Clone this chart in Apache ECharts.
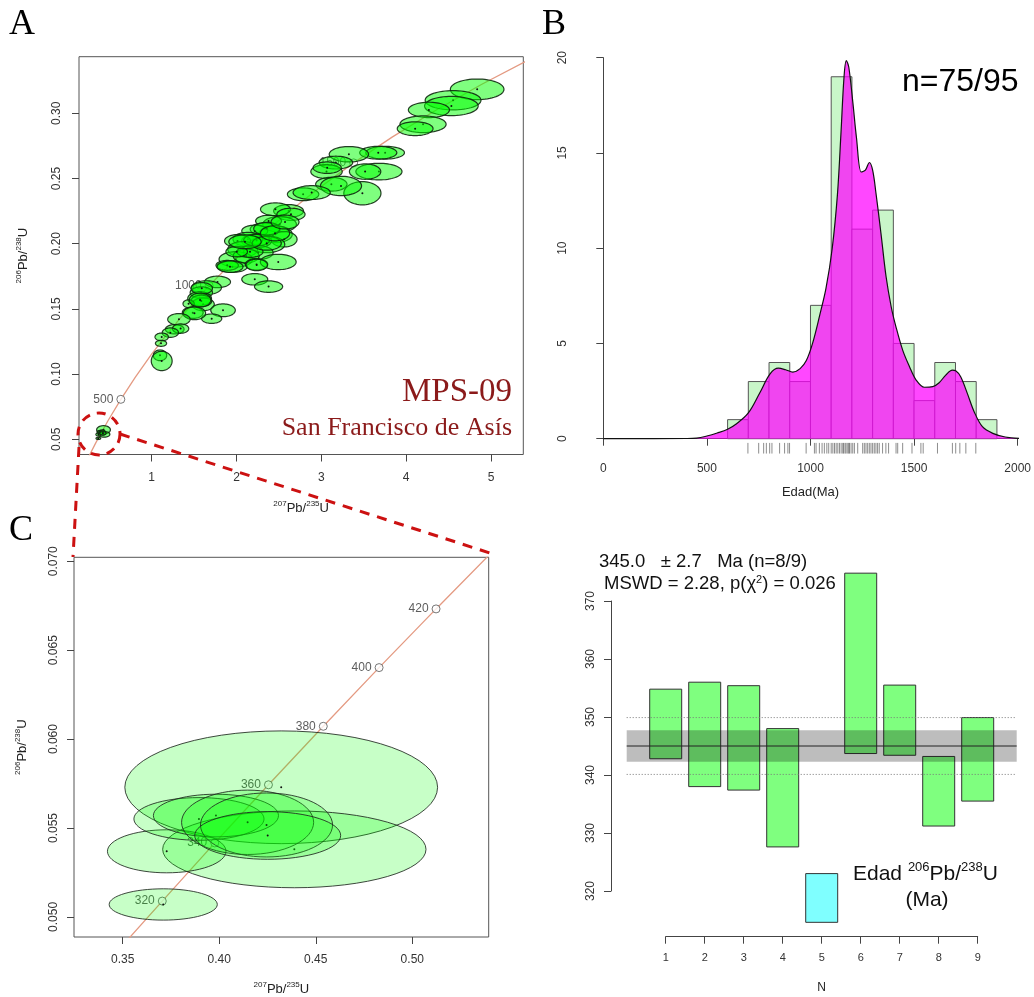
<!DOCTYPE html>
<html>
<head>
<meta charset="utf-8">
<script src="https://cdn.jsdelivr.net/npm/echarts@6/dist/echarts.min.js"></script>
<style>
html, body { margin: 0; padding: 0; background: #fff; }
#main { width: 1034px; height: 997px; }
</style>
</head>
<body>
<div id="main"></div>
<script>
// ---- concordia (edad Ma -> 207Pb/235U, 206Pb/238U) ----
const concAgeA = [0, 100, 200, 300, 400, 500, 600, 700, 800, 900, 1000, 1100, 1200, 1300, 1400, 1500, 1600, 1700, 1800, 1900];
const concXA = [0, 0.1035, 0.2177, 0.3437, 0.4828, 0.6363, 0.8056, 0.9925, 1.1987, 1.4264, 1.6774, 1.9545, 2.2603, 2.5978, 2.9700, 3.3810, 3.8343, 4.3347, 4.8868, 5.4961];
const concYA = [0, 0.01564, 0.03152, 0.04764, 0.06402, 0.08065, 0.09754, 0.11470, 0.13213, 0.14983, 0.16780, 0.18606, 0.20460, 0.22343, 0.24256, 0.26198, 0.28171, 0.30174, 0.32209, 0.34276];
const markAgesA = [500, 1000, 1500];

const concAgeC = [300, 320, 340, 360, 380, 400, 420, 440];
const concXC = [0.3437, 0.3705, 0.3977, 0.4255, 0.4539, 0.4828, 0.5123, 0.5424];
const concYC = [0.04764, 0.05089, 0.05416, 0.05743, 0.06072, 0.06402, 0.06732, 0.07064];
const markAgesC = [320, 340, 360, 380, 400, 420];

// ---- elipses A: [207/235, 206/238, semieje x, semieje y] ----
const ellA = [
  [4.837, 0.3184, 0.316, 0.0079], [4.553, 0.3100, 0.329, 0.0074], [4.533, 0.3056, 0.316, 0.0074],
  [4.268, 0.3026, 0.242, 0.0059], [4.199, 0.2916, 0.272, 0.0064], [4.106, 0.2882, 0.211, 0.0053],
  [3.752, 0.2698, 0.228, 0.0049], [3.671, 0.2698, 0.219, 0.0049], [3.325, 0.2686, 0.232, 0.0059],
  [3.484, 0.2387, 0.219, 0.0089], [3.679, 0.2553, 0.272, 0.0064], [3.516, 0.2553, 0.185, 0.0059],
  [3.171, 0.2622, 0.198, 0.0049], [3.061, 0.2553, 0.185, 0.0053], [3.118, 0.2456, 0.185, 0.0053],
  [3.232, 0.2443, 0.242, 0.0074], [2.785, 0.2379, 0.185, 0.0049], [2.886, 0.2392, 0.219, 0.0053],
  [3.069, 0.2583, 0.166, 0.0044], [2.614, 0.2251, 0.176, 0.0049], [2.459, 0.2264, 0.176, 0.0049],
  [2.642, 0.2225, 0.166, 0.0047], [2.508, 0.2149, 0.198, 0.0059], [2.378, 0.2174, 0.153, 0.0044],
  [2.459, 0.2072, 0.198, 0.0064], [2.561, 0.2034, 0.153, 0.0059], [2.337, 0.2110, 0.176, 0.0049],
  [2.215, 0.2098, 0.153, 0.0044], [2.358, 0.1995, 0.211, 0.0064], [2.236, 0.2021, 0.176, 0.0053],
  [2.134, 0.2034, 0.176, 0.0053], [2.012, 0.2021, 0.153, 0.0049], [2.073, 0.1957, 0.176, 0.0059],
  [2.256, 0.1932, 0.176, 0.0053], [1.992, 0.1880, 0.198, 0.0059], [1.951, 0.1824, 0.176, 0.0044],
  [1.890, 0.1834, 0.132, 0.0038], [2.114, 0.1906, 0.153, 0.0053], [2.236, 0.1842, 0.132, 0.0044],
  [2.492, 0.1860, 0.211, 0.0059], [2.215, 0.1727, 0.153, 0.0044], [2.378, 0.1671, 0.166, 0.0044],
  [1.776, 0.1707, 0.153, 0.0044], [1.646, 0.1663, 0.176, 0.0053], [1.585, 0.1625, 0.132, 0.0044],
  [1.565, 0.1579, 0.140, 0.0053], [1.606, 0.1535, 0.132, 0.0049], [1.585, 0.1561, 0.123, 0.0044],
  [1.484, 0.1471, 0.123, 0.0044], [1.435, 0.1540, 0.066, 0.0030], [1.841, 0.1489, 0.145, 0.0049],
  [1.707, 0.1425, 0.119, 0.0036], [1.504, 0.1466, 0.132, 0.0049], [1.321, 0.1420, 0.132, 0.0044],
  [1.272, 0.1344, 0.110, 0.0036], [1.341, 0.1349, 0.096, 0.0036], [1.220, 0.1318, 0.096, 0.0036],
  [1.118, 0.1285, 0.079, 0.0030], [1.110, 0.1236, 0.066, 0.0023], [1.098, 0.1144, 0.079, 0.0041],
  [1.118, 0.1101, 0.123, 0.0074],
  [2.356, 0.2116, 0.153, 0.0048], [2.238, 0.2028, 0.153, 0.0044], [2.159, 0.1939, 0.153, 0.0044],
  [2.002, 0.1939, 0.127, 0.0040], [1.923, 0.1824, 0.153, 0.0044], [2.238, 0.1837, 0.127, 0.0044],
  [2.356, 0.2003, 0.172, 0.0053], [2.454, 0.2080, 0.172, 0.0058], [2.100, 0.2015, 0.191, 0.0053],
  [1.590, 0.1658, 0.127, 0.0044], [1.570, 0.1568, 0.127, 0.0053], [2.572, 0.2166, 0.165, 0.0053]
];

// ---- elipses C (las mismas 9 alícuotas) ----
const ellC = [
  [0.4321, 0.05729, 0.0810, 0.00317],
  [0.4389, 0.05380, 0.0682, 0.00216],
  [0.3728, 0.05369, 0.0307, 0.00121],
  [0.3710, 0.05070, 0.0280, 0.00088],
  [0.3895, 0.05551, 0.0337, 0.00120],
  [0.3983, 0.05570, 0.0324, 0.00120],
  [0.4147, 0.05532, 0.0342, 0.00181],
  [0.4245, 0.05517, 0.0342, 0.00180],
  [0.4251, 0.05458, 0.0378, 0.00134]
];

// ---- histograma B ----
const binWidth = 100;
const binStart = [600, 700, 800, 900, 1000, 1100, 1200, 1300, 1400, 1500, 1600, 1700, 1800];
const binCount = [1, 3, 4, 3, 7, 19, 11, 12, 5, 2, 4, 3, 1];
const kdeAge = [0, 400, 450, 500, 550, 600, 645, 700, 755, 805, 845, 880, 915, 950, 980, 1010, 1045, 1075, 1105, 1130,
  1147, 1162, 1173, 1185, 1205, 1222, 1245, 1265, 1284, 1300, 1316, 1340, 1365, 1390, 1412, 1445, 1478, 1510, 1550, 1590,
  1621, 1653, 1685, 1701, 1725, 1757, 1790, 1830, 1880, 1940, 2030];
const kdeDens = [0, 0.01, 0.03, 0.14, 0.3, 0.5, 0.8, 1.35, 2.4, 3.4, 3.7, 3.62, 3.5, 3.68, 4.1, 5.0, 6.5, 7.9, 10.0, 12.8,
  16.0, 19.0, 19.85, 19.5, 17.6, 15.8, 14.0, 14.1, 14.5, 14.1, 12.9, 10.8, 8.5, 6.9, 5.9, 4.65, 3.78, 3.08, 2.7, 2.73,
  2.94, 3.34, 3.6, 3.57, 3.25, 2.38, 1.42, 0.63, 0.28, 0.09, 0];
const rugAge = [698, 750, 774, 787, 803, 814, 851, 875, 891, 899, 979, 1019, 1027, 1043, 1056, 1067, 1079, 1088, 1100, 1108,
  1116, 1124, 1132, 1140, 1148, 1156, 1160, 1167, 1172, 1180, 1185, 1188, 1196, 1204, 1212, 1228, 1252, 1260, 1268, 1276,
  1284, 1292, 1300, 1308, 1316, 1324, 1332, 1348, 1364, 1377, 1413, 1421, 1445, 1490, 1533, 1544, 1613, 1685, 1701, 1721,
  1750, 1798];

// ---- edad media ponderada D ----
const aliquot = [1, 2, 3, 4, 5, 6, 7, 8, 9];
const ageLow = [342.8, 338.0, 337.4, 327.6, 314.6, 343.7, 343.4, 331.2, 335.5];
const ageHigh = [354.8, 356.0, 355.4, 348.0, 323.0, 374.8, 355.5, 343.2, 349.9];
const rejected = [0, 0, 0, 0, 1, 0, 0, 0, 0];
const meanAge = 345.0;
const meanErr = 2.7;
const dispLimits = [340.1, 349.9];

const SANS = 'Liberation Sans';
const tickColor = '#444';
const labelColor = '#333';
const supRich = {
  sup: { fontSize: 8, verticalAlign: 'top', lineHeight: 8, color: '#222', fontFamily: SANS },
  b: { fontSize: 13, verticalAlign: 'bottom', lineHeight: 15, color: '#222', fontFamily: SANS }
};

function ellipseRender(fill, stroke, lw) {
  return function (params, api) {
    const x = api.value(0), y = api.value(1), sx = api.value(2), sy = api.value(3);
    const pts = [];
    for (let k = 0; k < 64; k++) {
      const t = (k / 64) * Math.PI * 2;
      pts.push(api.coord([x + sx * Math.cos(t), y + sy * Math.sin(t)]));
    }
    const c = api.coord([x, y]);
    return {
      type: 'group',
      children: [
        { type: 'polygon', shape: { points: pts }, style: { fill: fill, stroke: stroke, lineWidth: lw } },
        { type: 'circle', shape: { cx: c[0], cy: c[1], r: 1 }, style: { fill: '#111' } }
      ]
    };
  };
}

function markData(ages, concAge, cx, cy) {
  return ages.map(a => {
    const i = concAge.indexOf(a);
    return [cx[i], cy[i], a];
  });
}

const markerSeries = (xi, data) => ({
  type: 'scatter', xAxisIndex: xi, yAxisIndex: xi, data: data, z: 2, silent: true,
  symbol: 'circle', symbolSize: 8,
  itemStyle: { color: '#fff', borderColor: '#555', borderWidth: 1 },
  label: { show: true, position: 'left', distance: 3, formatter: p => p.value[2], fontSize: 12, color: '#333', fontFamily: SANS }
});

const boxAxisX = (grid, min, max, ticks, dec, name, gap) => ({
  gridIndex: grid, type: 'value', min: min, max: max,
  axisLine: { show: false }, splitLine: { show: false },
  axisTick: { length: 7, lineStyle: { color: tickColor }, customValues: ticks },
  axisLabel: { customValues: ticks, margin: 17, fontSize: 12, color: labelColor, fontFamily: SANS, formatter: v => v.toFixed(dec) },
  name: name, nameLocation: 'middle', nameGap: gap, nameTextStyle: { rich: supRich }
});
const boxAxisY = (grid, min, max, ticks, dec, name, gap, margin) => ({
  gridIndex: grid, type: 'value', min: min, max: max,
  axisLine: { show: false }, splitLine: { show: false },
  axisTick: { length: 7, lineStyle: { color: tickColor }, customValues: ticks },
  axisLabel: { customValues: ticks, rotate: 90, margin: margin, fontSize: 12, color: labelColor, fontFamily: SANS, formatter: v => v.toFixed(dec) },
  name: name, nameLocation: 'middle', nameGap: gap, nameRotate: 90, nameTextStyle: { rich: supRich }
});

const nameXY = ['{sup|207}{b|Pb/}{sup|235}{b|U}', '{sup|206}{b|Pb/}{sup|238}{b|U}'];

const option = {
  animation: false,
  backgroundColor: '#fff',
  grid: [
    { left: 79, top: 56.7, width: 444.3, height: 397.8, show: true, borderColor: '#555', borderWidth: 1 },
    { left: 603.3, top: 57.7, width: 415.4, height: 381 },
    { left: 74, top: 557.3, width: 414.7, height: 383.7, show: true, borderColor: '#555', borderWidth: 1 },
    { left: 665.7, top: 601, width: 312, height: 290 }
  ],
  xAxis: [
    boxAxisX(0, 0.143, 5.381, [1, 2, 3, 4, 5], 0, nameXY[0], 45),
    {
      gridIndex: 1, type: 'value', min: 0, max: 2000, interval: 500, offset: 15.3,
      axisLine: { lineStyle: { color: tickColor } }, splitLine: { show: false },
      axisTick: { length: 7, lineStyle: { color: tickColor } },
      axisLabel: { margin: 9, fontSize: 12, color: labelColor, fontFamily: SANS, formatter: v => String(v) },
      name: 'Edad(Ma)', nameLocation: 'middle', nameGap: 32,
      nameTextStyle: { fontSize: 13, color: '#222', fontFamily: SANS }
    },
    boxAxisX(2, 0.32478, 0.53957, [0.35, 0.40, 0.45, 0.50], 2, nameXY[0], 44),
    {
      gridIndex: 3, type: 'value', min: 1, max: 9, interval: 1, offset: 45.7,
      axisLine: { lineStyle: { color: tickColor } }, splitLine: { show: false },
      axisTick: { length: 7, lineStyle: { color: tickColor } },
      axisLabel: { margin: 16, fontSize: 11, color: labelColor, fontFamily: SANS },
      name: 'N', nameLocation: 'middle', nameGap: 45,
      nameTextStyle: { fontSize: 12, color: '#222', fontFamily: SANS }
    }
  ],
  yAxis: [
    boxAxisY(0, 0.03834, 0.3434, [0.05, 0.10, 0.15, 0.20, 0.25, 0.30], 2, nameXY[1], 49, 16),
    {
      gridIndex: 1, type: 'value', min: 0, max: 20, interval: 5, offset: 16.6,
      axisLine: { show: true, lineStyle: { color: tickColor } }, splitLine: { show: false },
      axisTick: { show: true, length: 7, lineStyle: { color: tickColor } },
      axisLabel: { rotate: 90, margin: 18, fontSize: 12, color: labelColor, fontFamily: SANS }
    },
    boxAxisY(2, 0.04887, 0.070223, [0.050, 0.055, 0.060, 0.065, 0.070], 3, nameXY[1], 45, 14),
    {
      gridIndex: 3, type: 'value', min: 320, max: 370, interval: 10, offset: 54.7,
      axisLine: { show: true, lineStyle: { color: tickColor } }, splitLine: { show: false },
      axisTick: { show: true, length: 7, lineStyle: { color: tickColor } },
      axisLabel: { rotate: 90, margin: 14, fontSize: 12, color: labelColor, fontFamily: SANS }
    }
  ],
  series: [
    // A: concordia, marcas y elipses
    {
      type: 'line', xAxisIndex: 0, yAxisIndex: 0, z: 1, silent: true, showSymbol: false, clip: true,
      data: concAgeA.map((a, i) => [concXA[i], concYA[i]]),
      lineStyle: { color: '#e49a82', width: 1.3 }
    },
    markerSeries(0, markData(markAgesA, concAgeA, concXA, concYA)),
    {
      type: 'custom', xAxisIndex: 0, yAxisIndex: 0, z: 3, silent: true,
      data: ellA.concat(ellC), renderItem: ellipseRender('rgba(0,255,0,0.5)', 'rgba(15,40,15,0.9)', 1.2)
    },
    // B: histograma, densidad y rug
    {
      type: 'custom', xAxisIndex: 1, yAxisIndex: 1, z: 1, silent: true,
      data: binStart.map((s, i) => [s, binCount[i]]),
      renderItem: function (params, api) {
        const s = api.value(0), n = api.value(1);
        const p0 = api.coord([s, n]);
        const p1 = api.coord([s + binWidth, 0]);
        return { type: 'rect', shape: { x: p0[0], y: p0[1], width: p1[0] - p0[0], height: p1[1] - p0[1] },
          style: { fill: '#c9f6c9', stroke: '#555', lineWidth: 1 } };
      }
    },
    {
      type: 'line', xAxisIndex: 1, yAxisIndex: 1, z: 2, silent: true, showSymbol: false, clip: false, smooth: 0.35,
      data: kdeAge.map((a, i) => [a, kdeDens[i]]),
      lineStyle: { color: '#111', width: 1.2 },
      areaStyle: { color: 'rgba(255,0,255,0.72)', opacity: 1 }
    },
    {
      type: 'custom', xAxisIndex: 1, yAxisIndex: 1, z: 2, silent: true,
      data: rugAge.map(a => [a]),
      renderItem: function (params, api) {
        const a = api.value(0);
        const p0 = api.coord([a, -0.22]);
        const p1 = api.coord([a, -0.78]);
        return { type: 'line', shape: { x1: p0[0], y1: p0[1], x2: p1[0], y2: p1[1] },
          style: { stroke: 'rgba(0,0,0,0.45)', lineWidth: 1 } };
      }
    },
    // C: concordia, marcas y elipses
    {
      type: 'line', xAxisIndex: 2, yAxisIndex: 2, z: 1, silent: true, showSymbol: false, clip: true,
      data: concAgeC.map((a, i) => [concXC[i], concYC[i]]),
      lineStyle: { color: '#e49a82', width: 1.3 }
    },
    markerSeries(2, markData(markAgesC, concAgeC, concXC, concYC)),
    {
      type: 'custom', xAxisIndex: 2, yAxisIndex: 2, z: 3, silent: true,
      data: ellC, renderItem: ellipseRender('rgba(0,255,0,0.22)', 'rgba(30,40,30,0.85)', 1)
    },
    // D: barras de edad y media ponderada
    {
      type: 'custom', xAxisIndex: 3, yAxisIndex: 3, z: 1, silent: true,
      data: aliquot.map((n, i) => [n, ageLow[i], ageHigh[i], rejected[i]]),
      renderItem: function (params, api) {
        const n = api.value(0), lo = api.value(1), hi = api.value(2), rej = api.value(3);
        const p0 = api.coord([n - 0.41, hi]);
        const p1 = api.coord([n + 0.41, lo]);
        return { type: 'rect', shape: { x: p0[0], y: p0[1], width: p1[0] - p0[0], height: p1[1] - p0[1] },
          style: { fill: rej ? 'rgba(0,255,255,0.5)' : 'rgba(0,255,0,0.5)', stroke: '#333', lineWidth: 1 } };
      }
    },
    {
      type: 'custom', xAxisIndex: 3, yAxisIndex: 3, z: 2, silent: true,
      data: [[meanAge, meanErr]],
      renderItem: function (params, api) {
        const m = api.value(0), e = api.value(1);
        const b0 = api.coord([0, m + e]);
        const b1 = api.coord([10, m - e]);
        const l0 = api.coord([0, m]);
        const l1 = api.coord([10, m]);
        const kids = [
          { type: 'rect', shape: { x: b0[0], y: b0[1], width: b1[0] - b0[0], height: b1[1] - b0[1] },
            style: { fill: 'rgba(0,0,0,0.26)' } },
          { type: 'line', shape: { x1: l0[0], y1: l0[1], x2: l1[0], y2: l1[1] }, style: { stroke: '#222', lineWidth: 1 } }
        ];
        dispLimits.forEach(v => {
          const d0 = api.coord([0, v]);
          const d1 = api.coord([10, v]);
          kids.push({ type: 'line', shape: { x1: d0[0], y1: d0[1], x2: d1[0], y2: d1[1] },
            style: { stroke: '#777', lineWidth: 1, lineDash: [1, 2] } });
        });
        return { type: 'group', children: kids };
      }
    }
  ],
  graphic: [
    { type: 'text', x: 9, y: 25, z: 50, style: { text: 'A', font: '36px "Liberation Serif"', fill: '#000', verticalAlign: 'middle' } },
    { type: 'text', x: 542, y: 25, z: 50, style: { text: 'B', font: '36px "Liberation Serif"', fill: '#000', verticalAlign: 'middle' } },
    { type: 'text', x: 9, y: 531, z: 50, style: { text: 'C', font: '36px "Liberation Serif"', fill: '#000', verticalAlign: 'middle' } },
    { type: 'text', x: 512, y: 392, z: 50, style: { text: 'MPS-09', font: '33px "Liberation Serif"', fill: '#8b1a1a', align: 'right', verticalAlign: 'middle' } },
    { type: 'text', x: 512, y: 428, z: 50, style: { text: 'San Francisco de Asís', font: '26px "Liberation Serif"', fill: '#8b1a1a', align: 'right', verticalAlign: 'middle' } },
    { type: 'text', x: 902, y: 82, z: 50, style: { text: 'n=' + binCount.reduce((s, v) => s + v, 0) + '/95', font: '32px "Liberation Sans"', fill: '#000', verticalAlign: 'middle' } },
    { type: 'text', x: 599, y: 562, z: 50, style: {
      text: meanAge.toFixed(1) + '   \u00b1 ' + meanErr.toFixed(1) + '   Ma (n=' + rejected.filter(r => !r).length + '/' + aliquot.length + ')',
      font: '18.5px "Liberation Sans"', fill: '#111', verticalAlign: 'middle' } },
    { type: 'text', x: 604, y: 584, z: 50, style: {
      text: 'MSWD = 2.28, p(\u03c7{s|2}) = 0.026', font: '18.5px "Liberation Sans"', fill: '#111', verticalAlign: 'middle',
      rich: { s: { fontSize: 11, verticalAlign: 'top', lineHeight: 10, fontFamily: SANS, fill: '#111' } } } },
    { type: 'text', x: 853, y: 873, z: 50, style: {
      text: '{m|Edad }{s|206}{m|Pb/}{s|238}{m|U}', fill: '#111', verticalAlign: 'middle',
      rich: { m: { fontSize: 21, fontFamily: SANS, verticalAlign: 'bottom', lineHeight: 24, fill: '#111' },
              s: { fontSize: 13, fontFamily: SANS, verticalAlign: 'top', lineHeight: 13, fill: '#111' } } } },
    { type: 'text', x: 927, y: 900, z: 50, style: { text: '(Ma)', font: '21px "Liberation Sans"', fill: '#111', align: 'center', verticalAlign: 'middle' } },
    // zoom de A a C
    { type: 'circle', z: 60, shape: { cx: 99, cy: 434, r: 21 }, style: { fill: 'none', stroke: '#cc1111', lineWidth: 3, lineDash: [9, 7] } },
    { type: 'line', z: 60, shape: { x1: 79, y1: 447, x2: 73, y2: 557 }, style: { stroke: '#cc1111', lineWidth: 3, lineDash: [10, 8] } },
    { type: 'line', z: 60, shape: { x1: 120, y1: 434, x2: 493, y2: 554 }, style: { stroke: '#cc1111', lineWidth: 3, lineDash: [10, 8] } }
  ]
};

const chart = echarts.init(document.getElementById('main'));
chart.setOption(option);
</script>
</body>
</html>
